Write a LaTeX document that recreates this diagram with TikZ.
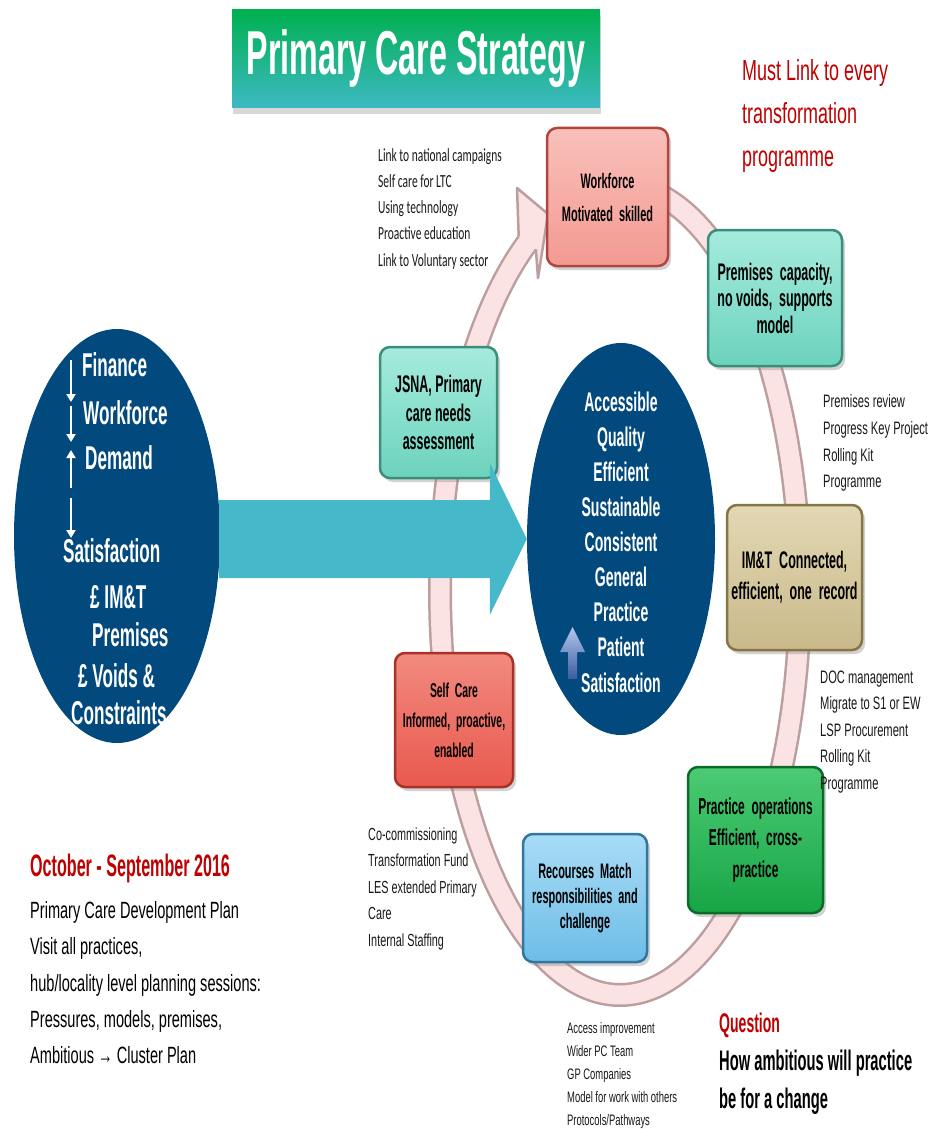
\documentclass[tikz,border=0pt]{standalone}
\usepackage{fontspec}
\setmainfont{Liberation Sans}
\newfontfamily\fB[FakeStretch=0.52]{Liberation Sans}
\newfontfamily\fR[FakeStretch=0.62]{Liberation Sans}
\newfontfamily\fC[FakeStretch=0.62]{Carlito}
\usetikzlibrary{shapes.geometric,shadows,arrows.meta,calc}
\newcommand\fsz[2]{\fontsize{#1}{#2}\selectfont}
\definecolor{cNavy}{HTML}{02497E}
\definecolor{cTeal}{HTML}{45B8C9}
\definecolor{cRed}{HTML}{C00000}
\definecolor{cRing}{HTML}{FCE3E3}
\definecolor{cRingEdge}{HTML}{BC9E9E}
\definecolor{cTitleT}{HTML}{00B050}
\definecolor{cTitleB}{HTML}{3DB9C3}
\definecolor{cWfT}{HTML}{F9C0BA}\definecolor{cWfB}{HTML}{F39A92}\definecolor{cWfD}{HTML}{B0463E}
\definecolor{cScT}{HTML}{F28A80}\definecolor{cScB}{HTML}{E9594E}\definecolor{cScD}{HTML}{A83228}
\definecolor{cTqT}{HTML}{A6EBDD}\definecolor{cTqB}{HTML}{6CD3BD}\definecolor{cTqD}{HTML}{3C8E7B}
\definecolor{cKhT}{HTML}{E3D8B4}\definecolor{cKhB}{HTML}{C9B98A}\definecolor{cKhD}{HTML}{857548}
\definecolor{cGrT}{HTML}{4CCB74}\definecolor{cGrB}{HTML}{17A546}\definecolor{cGrD}{HTML}{0C6B2B}
\definecolor{cBlT}{HTML}{A8DCF5}\definecolor{cBlB}{HTML}{6DBDE7}\definecolor{cBlD}{HTML}{33779F}
\definecolor{cArrT}{HTML}{B3C6EE}
\definecolor{cArrB}{HTML}{3A5C9E}
\begin{document}
\begin{tikzpicture}[x=1pt,y=-1pt,
  bx/.style n args={3}{draw=#3, line width=2.5pt, rounded corners=10pt, top color=#1, bottom color=#2,
     align=center, inner sep=1pt, text=black,
     drop shadow={shadow xshift=3pt, shadow yshift=-4pt, opacity=0.35}},
  wtxt/.style={text=white, inner sep=0pt, anchor=west, font=\fB\bfseries\fsz{33}{38}},
  note/.style={inner sep=0pt, anchor=north west, align=left},
  wArrow/.style={white, line width=2.5pt, -{Triangle[length=8pt,width=9pt]}},
  ringline/.style={line join=round}
]
\useasboundingbox (0,0) rectangle (929,1129);
\fill[white] (0,0) rectangle (929,1129);

% ---- ring (cycle arrow)
\draw[ringline, line width=24pt, cRingEdge] plot[domain=-239:95, samples=220, smooth] ({620+180*cos(\x)},{590-405*sin(\x)});
\draw[ringline, line width=19pt, cRing] plot[domain=-239:95, samples=220, smooth] ({620+180*cos(\x)},{590-405*sin(\x)});
\coordinate (hOut) at (518.7,236.5);
\coordinate (hIn) at (535.9,249.3);
\coordinate (hB1) at (517,188);
\coordinate (hTip) at (548,214);
\coordinate (hB2) at (538,278);
\fill[cRing] (hOut) -- (hB1) -- (hTip) -- (hB2) -- (hIn) -- cycle;
\draw[cRingEdge, line width=2.5pt, line join=round] (hOut) -- (hB1) -- (hTip) -- (hB2) -- (hIn);

% ---- boxes
\node[bx={cWfT}{cWfB}{cWfD}, minimum width=121pt, minimum height=138pt, font=\fB\bfseries\fsz{21}{33}] (wf) at (607.5,197) {Workforce\\Motivated\ \ skilled};
\node[bx={cTqT}{cTqB}{cTqD}, minimum width=134pt, minimum height=136pt, font=\fB\bfseries\fsz{24}{26.5}] (prem) at (775,298) {Premises\ \ capacity,\\no voids, \ supports\\model};
\node[bx={cKhT}{cKhB}{cKhD}, minimum width=135pt, minimum height=145pt, font=\fB\bfseries\fsz{24}{31}] (imt) at (794.5,577.5) {IM\&T\ \ Connected,\\efficient,\ \ one\ \ record};
\node[bx={cGrT}{cGrB}{cGrD}, minimum width=135pt, minimum height=146pt, font=\fB\bfseries\fsz{23}{31.5}] (prac) at (755.5,840) {Practice\ \ operations\\Efficient,\ \ cross-\\practice};
\node[bx={cBlT}{cBlB}{cBlD}, minimum width=124pt, minimum height=128pt, font=\fB\bfseries\fsz{21}{25}] (rec) at (585,898) {Recourses\ \ Match\\responsibilities\ \ and\\challenge};
\node[bx={cScT}{cScB}{cScD}, minimum width=118pt, minimum height=134pt, font=\fB\bfseries\fsz{20}{30}] (self) at (454,720) {Self\ \ Care\\Informed,\ \ proactive,\\enabled};
\node[bx={cTqT}{cTqB}{cTqD}, minimum width=117pt, minimum height=131pt, font=\fB\bfseries\fsz{24}{28.5}] (jsna) at (438.5,412.5) {JSNA, Primary\\care needs\\assessment};

% ---- ellipses and main arrow
\node[ellipse, fill=cNavy, minimum width=206pt, minimum height=414pt, inner sep=0pt] (lell) at (117,536) {};
\node[ellipse, fill=cNavy, minimum width=188pt, minimum height=392pt, inner sep=0pt] (cell) at (621,539) {};
\fill[cTeal] ($(lell.east|-cell.west)+(-1,-39)$) -- ($(cell.west)+(-37,-39)$) -- ($(cell.west)+(-37,-76)$)
   -- (cell.west) -- ($(cell.west)+(-37,76)$) -- ($(cell.west)+(-37,39)$) -- ($(lell.east|-cell.west)+(-1,39)$) -- cycle;

% ---- title
\node[minimum width=368pt, minimum height=98pt, inner sep=0pt, top color=cTitleT, bottom color=cTitleB,
   drop shadow={shadow xshift=1pt, shadow yshift=-6pt, opacity=0.3},
   text=white, font=\fB\bfseries\fsz{62}{70}] (title) at (416,59) {Primary Care Strategy};

% ---- left ellipse text
\node[wtxt] (lFin) at (82,365) {Finance};
\node[wtxt] (lWork) at (83,413) {Workforce};
\node[wtxt] (lDem) at (85,458) {Demand};
\node[wtxt] (lSat) at (63,551) {Satisfaction};
\node[wtxt] (lImt) at (90,597) {£ IM\&T};
\node[wtxt] (lPrem) at (92,635) {Premises};
\node[wtxt] (lVoid) at (78,676) {£ Voids \&};
\node[wtxt] (lCons) at (71,713) {Constraints};
\coordinate (a1s) at (71,360); \coordinate (a1e) at (71,402);
\coordinate (a2s) at (71,406); \coordinate (a2e) at (71,442);
\coordinate (a3s) at (71,488); \coordinate (a3e) at (71,450);
\coordinate (a4s) at (71,498); \coordinate (a4e) at (71,538);
\draw[wArrow] (a1s) -- (a1e);
\draw[wArrow] (a2s) -- (a2e);
\draw[wArrow] (a3s) -- (a3e);
\draw[wArrow] (a4s) -- (a4e);

% ---- center ellipse text
\node[text=white, align=center, inner sep=0pt, font=\fB\bfseries\fsz{27}{35.1}] (ctext) at (621,542)
  {Accessible\\Quality\\Efficient\\Sustainable\\Consistent\\General\\Practice\\Patient\\Satisfaction};
\shade[top color=cArrT, bottom color=cArrB] (568,679) -- (568,652) -- (560,652) -- (572.5,627) -- (585,652) -- (577,652) -- (577,679) -- cycle;

% ---- notes
\node[note, text=cRed, font=\fR\fsz{29}{43}] (must) at (742,59) {Must Link to every\\transformation\\programme};
\node[note, text=black!90, font=\fC\fsz{18.5}{26.25}] (nTL) at (378,148) {Link to national campaigns\\Self care for LTC\\Using technology\\Proactive education\\Link to Voluntary sector};
\node[note, text=black!90, font=\fR\fsz{18}{26.7}] (nR1) at (823,394.5) {Premises review\\Progress Key Project\\Rolling Kit\\Programme};
\node[note, text=black!90, font=\fR\fsz{18}{26.5}] (nR2) at (820,670.5) {DOC management\\Migrate to S1 or EW\\LSP Procurement\\Rolling Kit\\Programme};
\node[note, text=black!90, font=\fR\fsz{17.5}{26.5}] (nBL) at (368,827.5) {Co-commissioning\\Transformation Fund\\LES extended Primary\\Care\\Internal Staffing};
\node[note, text=black!90, font=\fR\fsz{15.2}{23}] (nB) at (567,1022.5) {Access improvement\\Wider PC Team\\GP Companies\\Model for work with others\\Protocols/Pathways};
\node[anchor=west, inner sep=0pt, text=cRed, font=\fB\bfseries\fsz{31}{36}] (oct) at (30,868) {October - September 2016};
\node[note, text=black, font=\fR\fsz{23.5}{36.25}] (plan) at (30,901.5) {Primary Care Development Plan\\Visit all practices,\\hub/locality level planning sessions:\\Pressures, models, premises,\\Ambitious → Cluster Plan};
\node[anchor=west, inner sep=0pt, text=cRed, font=\fB\bfseries\fsz{27}{32}] (q) at (719,1025) {Question};
\node[note, text=black, font=\fB\bfseries\fsz{28.3}{38}] (qtext) at (719,1050) {How ambitious will practice\\be for a change};
\end{tikzpicture}
\end{document}
